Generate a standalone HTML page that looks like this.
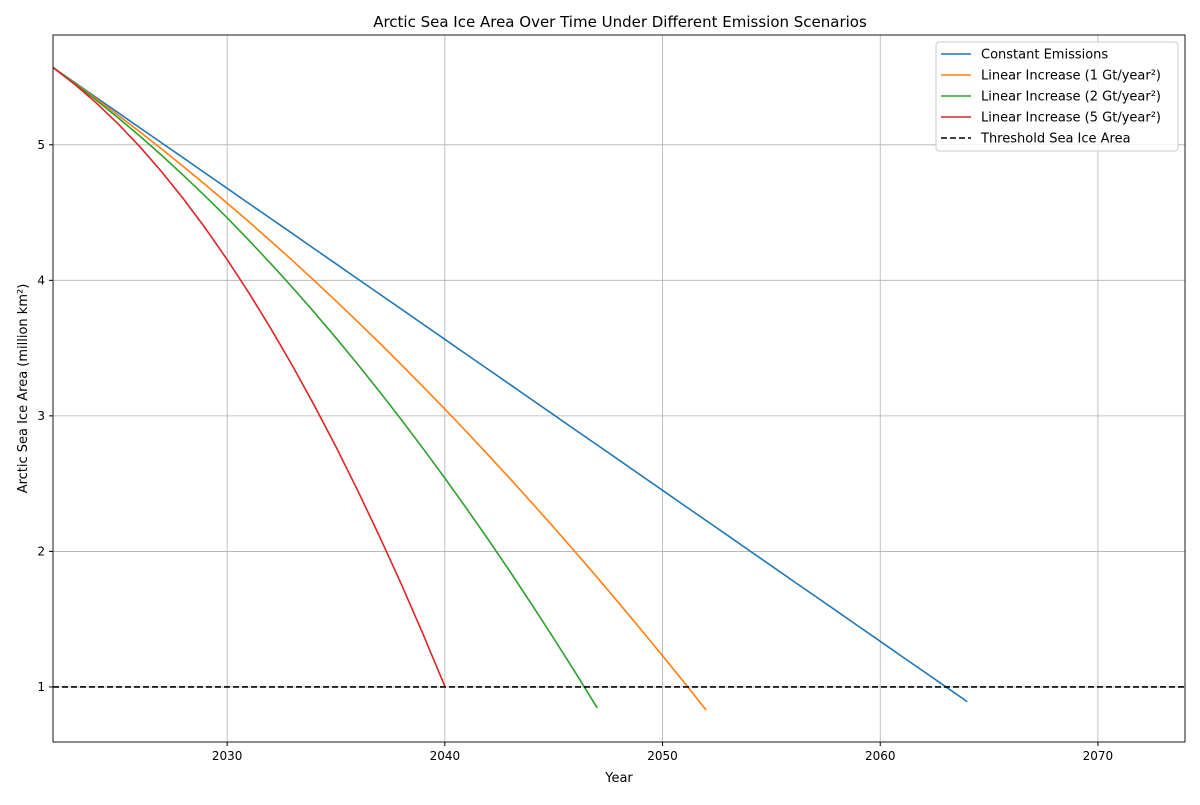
<!DOCTYPE html>
<html><head><meta charset="utf-8"><style>
body{margin:0;background:#fff;font-family:"Liberation Sans","DejaVu Sans",sans-serif}
svg text{font-family:"DejaVu Sans","Liberation Sans",sans-serif}
</style></head><body>
<svg id="chart" width="1200" height="800" xmlns="http://www.w3.org/2000/svg"></svg>
<script>
const years0 = 2022;
const constantEmissions = [5.570,5.459,5.347,5.236,5.124,5.013,4.902,4.790,4.679,4.567,4.456,4.345,4.233,4.122,4.010,3.899,3.788,3.676,3.565,3.453,3.342,3.231,3.119,3.008,2.896,2.785,2.674,2.562,2.451,2.339,2.228,2.117,2.005,1.894,1.782,1.671,1.560,1.448,1.337,1.225,1.114,1.003,0.891];
const linear1 = [5.57,5.456,5.338,5.217,5.094,4.968,4.838,4.705,4.57,4.432,4.29,4.146,3.998,3.848,3.694,3.538,3.378,3.215,3.05,2.882,2.71,2.536,2.358,2.178,1.994,1.808,1.618,1.425,1.23,1.032,0.83];
const linear2 = [5.57,5.452,5.328,5.198,5.063,4.921,4.773,4.620,4.461,4.295,4.124,3.947,3.764,3.575,3.380,3.179,2.972,2.759,2.541,2.316,2.086,1.850,1.607,1.359,1.105,0.845];
const linear5 = [5.57,5.446,5.307,5.153,4.984,4.799,4.599,4.384,4.153,3.907,3.646,3.370,3.078,2.771,2.448,2.110,1.758,1.389,1.005];
const xTicks = [2030,2040,2050,2060,2070];
const yTicks = [1,2,3,4,5];
const threshold = 1.0;
const seriesNames = ["Constant Emissions","Linear Increase (1 Gt/year²)","Linear Increase (2 Gt/year²)","Linear Increase (5 Gt/year²)"];
const seriesColors = ["#1f77b4","#ff7f0e","#2ca02c","#d62728"];

const L=53,R=1185,T=35,B=742, X0=2022,X1=2074,Y0=0.594,Y1=5.81;
const xs=v=>L+(v-X0)/(X1-X0)*(R-L);
const ys=v=>B-(v-Y0)/(Y1-Y0)*(B-T);
const svg=document.getElementById('chart');
const NS='http://www.w3.org/2000/svg';
function mk(t,a,p){const e=document.createElementNS(NS,t);for(const k in a)e.setAttribute(k,a[k]);(p||svg).appendChild(e);return e;}

xTicks.forEach(v=>{
 const g=mk('line',{x1:xs(v),x2:xs(v),y1:T,y2:B,stroke:'#b0b0b0','stroke-width':0.8});
 
 
 mk('line',{x1:xs(v),x2:xs(v),y1:B,y2:B+4,stroke:'#000'});
 const t=mk('text',{x:xs(v),y:B+18,'text-anchor':'middle','font-size':12});
 t.textContent=v;
 
 
});
yTicks.forEach(v=>{
 const g=mk('line',{x1:L,x2:R,y1:ys(v),y2:ys(v),stroke:'#b0b0b0','stroke-width':0.8});
 
 
 mk('line',{x1:L-4,x2:L,y1:ys(v),y2:ys(v),stroke:'#000'});
 const t=mk('text',{x:L-8,y:ys(v)+4,'text-anchor':'end','font-size':12});
 t.textContent=v;
 
 
});
[constantEmissions,linear1,linear2,linear5].forEach((s,i)=>{
 const p=mk('polyline',{points:s.map((v,k)=>xs(years0+k)+','+ys(v)).join(' '),fill:'none',stroke:seriesColors[i],'stroke-width':1.6,'stroke-linejoin':'round'});
 
 
});
const th=mk('line',{x1:L,x2:R,y1:ys(threshold),y2:ys(threshold),stroke:'#000','stroke-width':1.6,'stroke-dasharray':'6,3'});


const fr=mk('rect',{x:L,y:T,width:R-L,height:B-T,fill:'none',stroke:'#000','stroke-width':0.9});



const tt=mk('text',{x:(L+R)/2+1,y:27,'text-anchor':'middle','font-size':15});
tt.textContent='Arctic Sea Ice Area Over Time Under Different Emission Scenarios';


const xl=mk('text',{x:(L+R)/2,y:782,'text-anchor':'middle','font-size':13});
xl.textContent='Year';


const yl=mk('text',{x:0,y:0,'text-anchor':'middle','font-size':13,transform:'translate(27,'+((T+B)/2)+') rotate(-90)'});
yl.textContent='Arctic Sea Ice Area (million km²)';



const lg=mk('g',{});


mk('rect',{x:936,y:42,width:242,height:109,rx:3,fill:'#fff','fill-opacity':0.8,stroke:'#ccc'},lg);
const names=seriesNames.concat(['Threshold Sea Ice Area']);
const cols=seriesColors.concat(['#000']);
names.forEach((n,i)=>{
 const y=54+i*21;
 const ln=mk('line',{x1:941,x2:971,y1:y,y2:y,stroke:cols[i],'stroke-width':1.6},lg);
 if(i===4) ln.setAttribute('stroke-dasharray','6,3');
 const t=mk('text',{x:981,y:y+4.5,'font-size':13},lg);
 t.textContent=n;
 
 
});
</script>
</body></html>
